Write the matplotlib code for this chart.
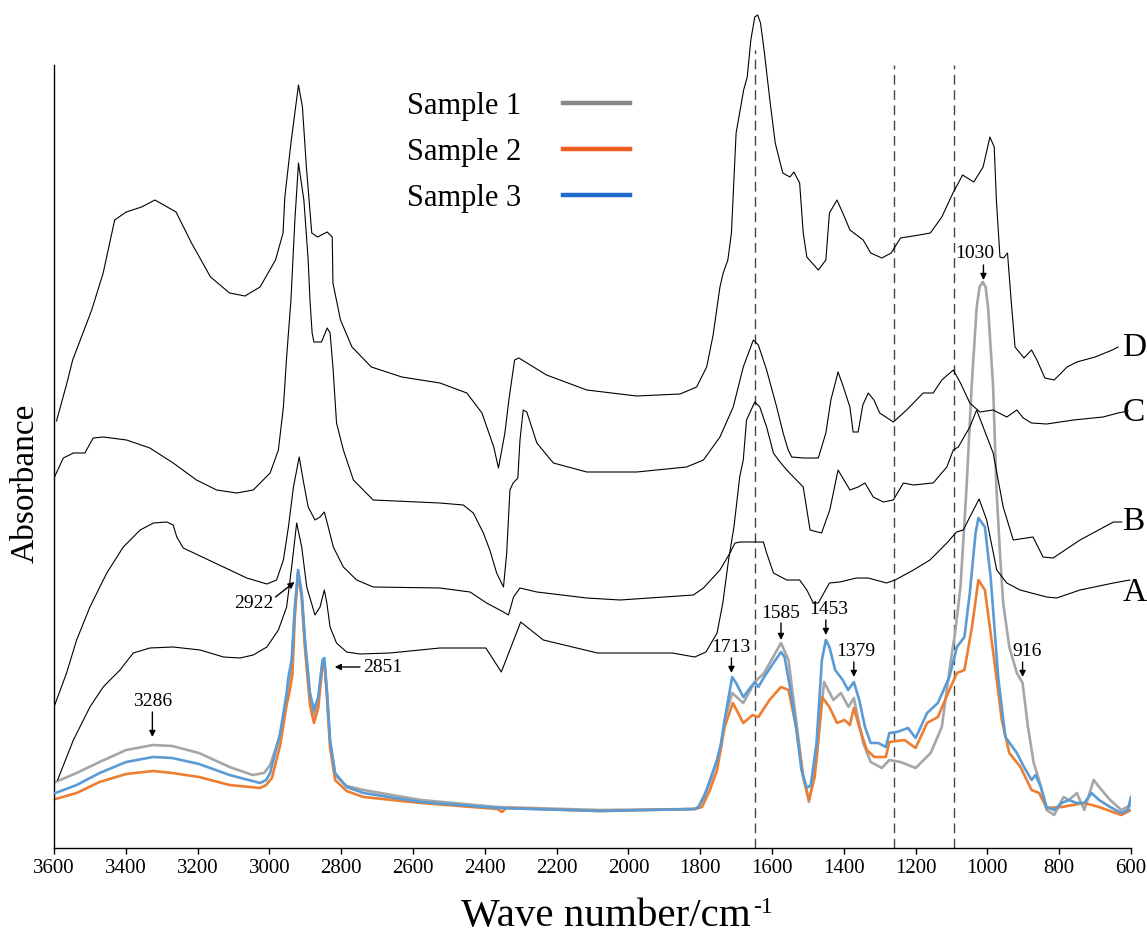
import matplotlib
matplotlib.use("Agg")
import matplotlib.pyplot as plt
from matplotlib.lines import Line2D

plt.rcParams['font.family'] = ['Liberation Serif', 'DejaVu Serif']

# ---------------- data (wavenumber cm-1, absorbance a.u.) ----------------
D_w = [3593, 3564, 3548, 3495, 3463, 3431, 3399, 3356, 3319, 3260, 3217, 3164, 3111, 3068, 3026, 2983, 2962, 2957, 2940, 2919, 2908, 2897, 2882, 2866, 2839, 2825, 2823, 2802, 2770, 2716, 2631, 2525, 2450, 2408, 2375, 2362, 2344, 2333, 2317, 2305, 2228, 2116, 1977, 1856, 1810, 1782, 1764, 1745, 1736, 1723, 1713, 1700, 1679, 1669, 1659, 1648, 1640, 1632, 1622, 1606, 1591, 1570, 1550, 1539, 1523, 1513, 1503, 1471, 1450, 1440, 1419, 1398, 1383, 1346, 1325, 1294, 1268, 1242, 1190, 1159, 1127, 1096, 1069, 1038, 1012, 993, 981, 975, 965, 955, 944, 934, 923, 898, 877, 862, 840, 814, 778, 751, 700, 652, 636]
D_v = [427, 465, 488, 538, 575, 628, 636, 641, 648, 636, 605, 571, 555, 552, 561, 588, 615, 651, 705, 763, 741, 681, 615, 611, 616, 611, 565, 528, 501, 481, 471, 465, 455, 435, 401, 380, 415, 448, 488, 490, 473, 458, 452, 454, 461, 481, 513, 561, 575, 588, 615, 715, 758, 771, 808, 831, 833, 825, 798, 748, 705, 675, 671, 676, 665, 615, 591, 578, 588, 635, 648, 631, 618, 608, 595, 590, 595, 610, 613, 615, 631, 655, 673, 666, 681, 711, 701, 648, 591, 590, 595, 548, 501, 490, 498, 488, 470, 468, 481, 486, 491, 498, 501]

C_w = [3600, 3574, 3546, 3514, 3491, 3463, 3398, 3333, 3268, 3203, 3147, 3091, 3045, 2998, 2975, 2961, 2952, 2940, 2929, 2919, 2904, 2892, 2887, 2881, 2876, 2855, 2839, 2831, 2823, 2813, 2794, 2766, 2711, 2525, 2460, 2432, 2404, 2386, 2367, 2348, 2339, 2330, 2321, 2308, 2302, 2293, 2283, 2255, 2209, 2116, 1977, 1838, 1791, 1745, 1708, 1680, 1652, 1638, 1615, 1587, 1569, 1555, 1545, 1513, 1471, 1450, 1436, 1416, 1403, 1383, 1374, 1360, 1347, 1332, 1316, 1300, 1262, 1225, 1179, 1151, 1127, 1095, 1075, 1049, 1021, 984, 946, 918, 900, 877, 835, 760, 678, 636, 608]
C_v = [370, 390, 395, 395, 410, 411, 408, 400, 385, 368, 358, 355, 358, 375, 398, 441, 491, 548, 628, 685, 648, 588, 548, 515, 506, 506, 520, 515, 481, 425, 398, 368, 348, 345, 343, 335, 315, 298, 275, 261, 295, 358, 365, 370, 408, 438, 436, 405, 385, 376, 376, 381, 388, 411, 441, 481, 508, 503, 478, 441, 415, 398, 391, 390, 390, 415, 448, 476, 463, 441, 416, 416, 443, 455, 448, 435, 426, 438, 455, 455, 468, 478, 465, 445, 436, 438, 431, 438, 430, 425, 424, 428, 431, 435, 437]

B_w = [3590, 3546, 3500, 3463, 3444, 3416, 3388, 3379, 3333, 3268, 3193, 3128, 3082, 3045, 3007, 2975, 2952, 2938, 2924, 2910, 2896, 2873, 2859, 2847, 2840, 2831, 2813, 2785, 2748, 2664, 2525, 2397, 2354, 2300, 2237, 2086, 1878, 1815, 1784, 1753, 1737, 1721, 1706, 1690, 1680, 1671, 1648, 1634, 1615, 1596, 1582, 1559, 1513, 1494, 1462, 1439, 1416, 1383, 1360, 1341, 1318, 1290, 1262, 1234, 1206, 1151, 1113, 1095, 1081, 1049, 1030, 984, 956, 928, 873, 845, 817, 742, 649, 626]
B_v = [68, 108, 141, 161, 168, 178, 191, 195, 200, 201, 198, 191, 190, 193, 201, 218, 241, 281, 325, 301, 261, 233, 241, 258, 245, 221, 205, 196, 194, 195, 200, 200, 176, 226, 208, 195, 195, 191, 196, 215, 245, 288, 321, 371, 388, 428, 446, 441, 421, 395, 388, 378, 361, 318, 315, 338, 378, 358, 361, 365, 351, 346, 348, 365, 363, 365, 381, 398, 401, 421, 438, 395, 341, 308, 311, 291, 290, 308, 326, 326]

A_w = [3600, 3565, 3537, 3500, 3453, 3407, 3360, 3323, 3286, 3268, 3258, 3240, 3128, 3063, 3007, 2980, 2961, 2947, 2933, 2917, 2906, 2892, 2873, 2859, 2847, 2836, 2822, 2794, 2757, 2711, 2525, 2441, 2395, 2348, 2334, 2320, 2302, 2255, 2116, 2023, 1819, 1791, 1745, 1717, 1703, 1689, 1624, 1615, 1596, 1559, 1523, 1503, 1485, 1471, 1440, 1411, 1365, 1332, 1281, 1257, 1206, 1160, 1113, 1086, 1067, 1049, 1023, 1002, 974, 946, 909, 835, 807, 742, 649, 603]
A_v = [141, 175, 208, 241, 275, 301, 318, 325, 326, 323, 311, 300, 281, 270, 264, 268, 288, 321, 361, 391, 368, 341, 328, 331, 336, 321, 301, 281, 268, 261, 260, 256, 245, 236, 233, 251, 260, 256, 250, 248, 253, 260, 278, 295, 305, 306, 306, 295, 275, 268, 268, 258, 245, 245, 265, 266, 270, 270, 265, 268, 278, 288, 305, 316, 318, 331, 349, 328, 278, 265, 258, 251, 250, 258, 265, 268]

S1_w = [3596, 3537, 3473, 3399, 3324, 3271, 3196, 3111, 3047, 3015, 2998, 2970, 2952, 2947, 2938, 2929, 2920, 2910, 2901, 2887, 2876, 2864, 2852, 2847, 2840, 2831, 2817, 2785, 2738, 2578, 2365, 2079, 1815, 1805, 1773, 1742, 1732, 1711, 1680, 1648, 1622, 1575, 1554, 1533, 1513, 1497, 1476, 1455, 1429, 1408, 1387, 1372, 1346, 1325, 1294, 1273, 1242, 1200, 1158, 1127, 1101, 1090, 1075, 1058, 1044, 1030, 1022, 1013, 1005, 998, 984, 975, 965, 956, 939, 918, 902, 887, 871, 856, 835, 814, 788, 773, 751, 730, 704, 689, 658, 627, 600]
S1_v = [66, 75, 86, 98, 103, 102, 95, 81, 73, 75, 83, 113, 148, 164, 183, 238, 276, 252, 205, 151, 133, 148, 186, 187, 156, 106, 73, 62, 58, 48, 41, 38, 39, 41, 65, 101, 128, 155, 145, 166, 175, 205, 188, 128, 71, 46, 88, 166, 148, 155, 141, 150, 105, 86, 80, 88, 86, 80, 95, 121, 190, 215, 261, 361, 461, 540, 561, 566, 561, 540, 461, 361, 295, 245, 201, 175, 165, 121, 85, 68, 38, 33, 51, 48, 55, 38, 68, 61, 48, 38, 43]

S2_w = [3596, 3537, 3473, 3399, 3324, 3271, 3196, 3111, 3026, 3009, 2993, 2970, 2952, 2943, 2936, 2929, 2920, 2910, 2901, 2887, 2876, 2864, 2852, 2847, 2840, 2831, 2817, 2785, 2738, 2578, 2365, 2352, 2341, 2079, 1815, 1795, 1773, 1753, 1732, 1709, 1680, 1654, 1638, 1607, 1575, 1554, 1533, 1513, 1497, 1481, 1461, 1440, 1419, 1398, 1383, 1372, 1357, 1336, 1315, 1283, 1273, 1231, 1200, 1168, 1138, 1106, 1085, 1064, 1043, 1025, 1007, 981, 960, 939, 908, 877, 856, 835, 793, 730, 689, 627, 600]
S2_v = [49, 55, 66, 74, 77, 75, 71, 63, 60, 63, 70, 103, 143, 158, 173, 233, 275, 250, 200, 143, 125, 140, 183, 186, 153, 100, 68, 57, 51, 45, 39, 36, 40, 37, 39, 41, 58, 78, 121, 145, 125, 133, 131, 148, 161, 158, 121, 71, 48, 71, 151, 141, 125, 128, 123, 140, 121, 98, 91, 91, 106, 108, 100, 125, 131, 158, 175, 178, 221, 268, 258, 188, 128, 95, 81, 58, 55, 40, 41, 45, 41, 33, 38]

S3_w = [3596, 3537, 3473, 3399, 3324, 3271, 3196, 3111, 3026, 3009, 2998, 2970, 2952, 2947, 2938, 2929, 2920, 2910, 2901, 2887, 2876, 2864, 2852, 2847, 2840, 2831, 2817, 2785, 2738, 2578, 2365, 2079, 1815, 1805, 1789, 1773, 1753, 1742, 1732, 1711, 1700, 1680, 1659, 1648, 1638, 1622, 1596, 1575, 1565, 1550, 1533, 1518, 1503, 1492, 1476, 1461, 1450, 1440, 1424, 1403, 1388, 1372, 1357, 1341, 1325, 1304, 1283, 1273, 1252, 1221, 1200, 1168, 1138, 1106, 1085, 1064, 1049, 1033, 1025, 1007, 991, 970, 950, 918, 898, 877, 866, 851, 835, 814, 793, 773, 752, 730, 710, 689, 658, 627, 609, 600]
S3_v = [55, 63, 75, 86, 91, 90, 84, 73, 65, 68, 75, 115, 155, 171, 188, 241, 278, 255, 208, 155, 138, 151, 188, 190, 158, 108, 75, 61, 55, 46, 40, 37, 39, 41, 51, 68, 88, 105, 128, 171, 165, 151, 161, 166, 161, 171, 185, 196, 191, 161, 121, 78, 60, 63, 105, 188, 208, 201, 178, 168, 158, 166, 148, 121, 105, 105, 101, 115, 116, 120, 110, 135, 145, 171, 201, 211, 255, 315, 330, 321, 271, 171, 111, 95, 81, 68, 73, 61, 41, 38, 45, 48, 45, 45, 55, 48, 41, 35, 38, 51]

sample_labels = ["Sample 1", "Sample 2", "Sample 3"]
curve_letters = ["D", "C", "B", "A"]
letter_pos_v = [500, 435, 326, 255]
dashed_w = [1648, 1260, 1092]
xticks = list(range(3600, 599, -200))

# peak annotations: (label, text_w, text_v, arrow_tail(w,v), arrow_head(w,v), ha)
annots = [
    ("3286", 3326, 146, (3326, 136), (3326, 111), 'center'),
    ("2922", 3044, 245, (2983, 251), (2930, 266), 'center'),
    ("2851", 2738, 181, (2748, 181), (2818, 181), 'left'),
    ("1713", 1716, 200, (1713, 190), (1713, 175), 'center'),
    ("1585", 1575, 235, (1575, 225), (1575, 208), 'center'),
    ("1453", 1443, 238, (1450, 228), (1450, 213), 'center'),
    ("1379", 1367, 196, (1372, 186), (1372, 171), 'center'),
    ("916", 890, 196, (902, 186), (902, 171), 'center'),
    ("1030", 1036, 595, (1011, 583), (1011, 568), 'center'),
]

# ---------------- figure ----------------
fig = plt.figure(figsize=(11.47, 9.35), dpi=100)
ax = fig.add_axes([54/1147, 87/935, (1131-54)/1147, (925-87)/935])

c_grey, c_orange, c_blue = '#a6a6a6', '#ed7d31', '#5b9bd5'
ax.plot(S1_w, S1_v, color=c_grey, lw=1.9, zorder=2)
ax.plot(S2_w, S2_v, color=c_orange, lw=1.9, zorder=2)
ax.plot(S3_w, S3_v, color=c_blue, lw=1.9, zorder=3)

for w, v in [(D_w, D_v), (C_w, C_v), (B_w, B_v), (A_w, A_v)]:
    ax.plot(w, v, color='black', lw=0.8, zorder=4)

tops = [798, 783, 783]
for w, t in zip(dashed_w, tops):
    ax.plot([w, w], [0, t], color='#444444', lw=1.0, ls=(0, (7, 4)), zorder=1)

for lab, vpos in zip(curve_letters, letter_pos_v):
    ax.text(624, vpos, lab, fontsize=24, ha='left', va='center')

for lab, tw, tv, tail, head, ha in annots:
    ax.text(tw, tv, lab, fontsize=14, ha=ha, va='center', zorder=6)
    ax.annotate('', xy=head, xytext=tail,
                arrowprops=dict(arrowstyle='-|>', color='black', lw=1.0,
                                mutation_scale=9, shrinkA=0, shrinkB=0), zorder=6)

ax.set_xlim(3600, 600)
ax.set_ylim(0, 838)
ax.set_xticks(xticks)
ax.set_xticklabels([str(t) for t in xticks])
ax.tick_params(axis='x', labelsize=15, length=4, width=1, pad=4, direction='out')
ax.set_yticks([])
for s in ['top', 'right']:
    ax.spines[s].set_visible(False)
ax.spines['left'].set_bounds(0, 783)
ax.spines['left'].set_linewidth(1.0)
ax.spines['bottom'].set_linewidth(1.0)

# x label with a hyphen superscript
xl = fig.text(461/1147, 1 - 926/935, 'Wave number/cm', fontsize=29.5,
              ha='left', va='baseline')
fig.canvas.draw()
bb = xl.get_window_extent(renderer=fig.canvas.get_renderer())
fig.text((bb.x1 + 3) / 1147, 1 - 913/935, '-1', fontsize=17,
         ha='left', va='baseline')

fig.text(25/1147, 1 - 483/935, 'Absorbance', fontsize=24, rotation=90,
         ha='center', va='center')

handles = [Line2D([], [], color='#878787', lw=3.2),
           Line2D([], [], color='#ee5d1f', lw=3.2),
           Line2D([], [], color='#1f6bcb', lw=3.2)]
fig.legend(handles, sample_labels, markerfirst=False, frameon=False, fontsize=22,
           handlelength=2.2, handletextpad=1.35, labelspacing=0.55,
           borderpad=0, borderaxespad=0, loc='upper left',
           bbox_to_anchor=(407/1147, 1 - 92/935), bbox_transform=fig.transFigure)

fig.savefig('out.png', dpi=100)
